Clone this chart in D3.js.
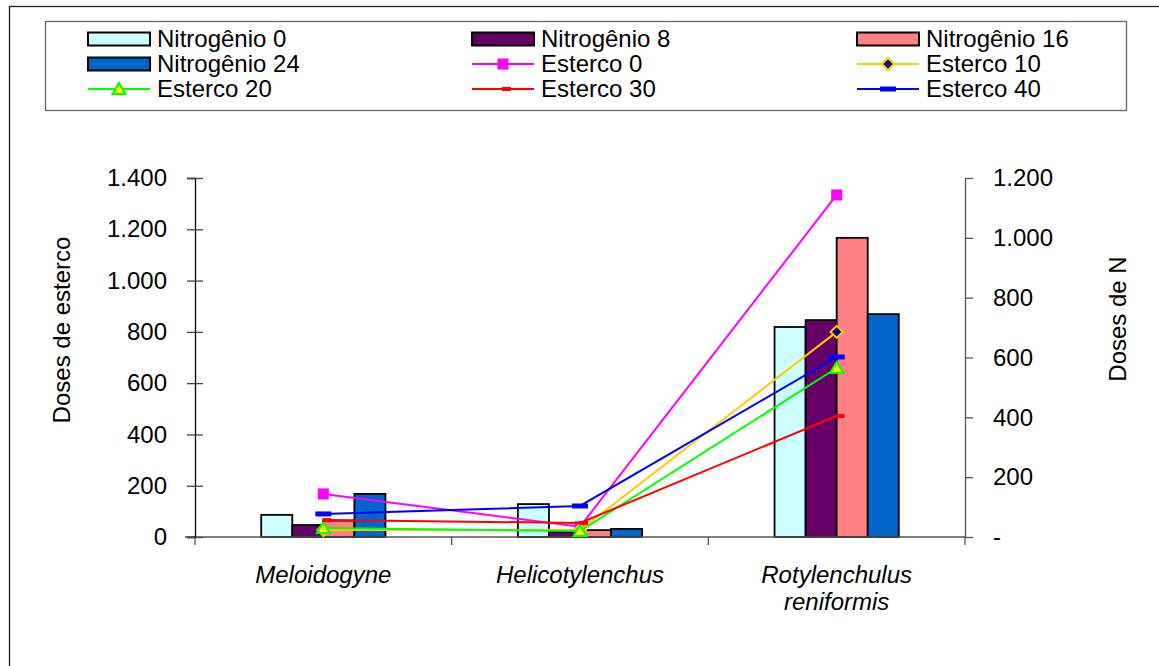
<!DOCTYPE html>
<html>
<head>
<meta charset="utf-8">
<script src="https://cdn.jsdelivr.net/npm/d3@7"></script>
<style>
  body { margin: 0; background: #fff; }
  text { font-family: Arial, "Liberation Sans", sans-serif; fill: #000; }
  .tick text { font-size: 24px; }
  .axis-label { font-size: 24px; }
  .cat-label { font-size: 24px; font-style: italic; }
  .legend text { font-size: 24px; }
</style>
</head>
<body>
<div id="chart"></div>
<script>
// Data
var categories = ["Meloidogyne", "Helicotylenchus", "Rotylenchulus reniformis"];

var barNames = ["Nitrogênio 0", "Nitrogênio 8", "Nitrogênio 16", "Nitrogênio 24"];
var nitro0 = [74, 110, 702];
var nitro8 = [40, 17, 725];
var nitro16 = [55, 23, 1000];
var nitro24 = [144, 27, 745];

var lineNames = ["Esterco 0", "Esterco 10", "Esterco 20", "Esterco 30", "Esterco 40"];
var esterco0 = [168, 40, 1334];
var esterco10 = [27, 27, 800];
var esterco20 = [35, 23, 659];
var esterco30 = [66, 55, 472];
var esterco40 = [90, 121, 702];

var leftTicks = [0, 200, 400, 600, 800, 1000, 1200, 1400];
var rightTicks = [0, 200, 400, 600, 800, 1000, 1200];

function init() {
    var W = 1159, H = 666;
    var plot = { left: 195, right: 965, top: 178, bottom: 537 };

    var svg = d3.select("#chart")
        .append("svg")
        .attr("width", W)
        .attr("height", H);

    // outer chart border (only top and left are visible)
    svg.append("rect")
        .attr("x", 9.5).attr("y", 6.5)
        .attr("width", 1200).attr("height", 700)
        .attr("fill", "none").attr("stroke", "#222").attr("stroke-width", 1.3);

    var bars = [
        { name: barNames[0], values: nitro0, color: "#CCFFFF" },
        { name: barNames[1], values: nitro8, color: "#660066" },
        { name: barNames[2], values: nitro16, color: "#FF8080" },
        { name: barNames[3], values: nitro24, color: "#0066CC" }
    ];
    var lines = [
        { name: lineNames[0], values: esterco0, color: "#FF00FF", marker: "square" },
        { name: lineNames[1], values: esterco10, color: "#FFCC00", marker: "diamond" },
        { name: lineNames[2], values: esterco20, color: "#00FF00", marker: "triangle" },
        { name: lineNames[3], values: esterco30, color: "#FF0000", marker: "dashS" },
        { name: lineNames[4], values: esterco40, color: "#0000FF", marker: "dashL" }
    ];

    // Scales
    var x = d3.scaleBand()
        .domain(categories)
        .range([plot.left, plot.right])
        .padding(0);

    var groupW = x.bandwidth() * 0.484;
    var xInner = d3.scaleBand()
        .domain(barNames)
        .range([-groupW / 2, groupW / 2])
        .padding(0);

    var yLeft = d3.scaleLinear().domain([0, 1400]).range([plot.bottom, plot.top]);
    var yRight = d3.scaleLinear().domain([0, 1200]).range([plot.bottom, plot.top]);

    var pt = d3.formatLocale({ decimal: ",", thousands: ".", grouping: [3], currency: ["", ""] }).format(",d");

    // Bars (Doses de N, right axis)
    bars.forEach(function (s) {
        svg.append("g").selectAll("rect")
            .data(s.values)
            .join("rect")
            .attr("x", (d, i) => x(categories[i]) + x.bandwidth() / 2 + xInner(s.name))
            .attr("y", d => yRight(d))
            .attr("width", xInner.bandwidth())
            .attr("height", d => yRight(0) - yRight(d))
            .attr("fill", s.color)
            .attr("stroke", "#000")
            .attr("stroke-width", 1.8);
    });

    // x axis line and category boundary ticks
    svg.append("line")
        .attr("x1", plot.left - 10).attr("x2", plot.right)
        .attr("y1", plot.bottom).attr("y2", plot.bottom)
        .attr("stroke", "#555").attr("stroke-width", 1.3);

    var bounds = categories.map(c => x(c)).concat([plot.right]);
    svg.append("g").selectAll("line")
        .data(bounds)
        .join("line")
        .attr("x1", d => d).attr("x2", d => d)
        .attr("y1", plot.bottom).attr("y2", plot.bottom + 8)
        .attr("stroke", "#555").attr("stroke-width", 1.3);

    // Category labels
    svg.append("g").selectAll("text")
        .data(categories)
        .join("text")
        .attr("class", "cat-label")
        .attr("text-anchor", "middle")
        .each(function (c) {
            var words = c.split(" ");
            var t = d3.select(this);
            words.forEach(function (w, j) {
                t.append("tspan")
                    .attr("x", x(c) + x.bandwidth() / 2)
                    .attr("y", 583 + j * 27)
                    .text(w);
            });
        });

    // Left axis (Doses de esterco)
    var gLeft = svg.append("g")
        .attr("transform", "translate(" + plot.left + ",0)")
        .call(d3.axisLeft(yLeft).tickValues(leftTicks).tickFormat(pt).tickSize(8).tickPadding(20));
    gLeft.select(".domain").attr("stroke", "#000").attr("stroke-width", 1.3);
    gLeft.selectAll(".tick line").attr("x1", 8).attr("stroke", "#444").attr("stroke-width", 1.3);
    gLeft.selectAll(".tick text").style("font-family", "Arial, 'Liberation Sans', sans-serif").attr("fill", "#000");

    // Right axis (Doses de N)
    var gRight = svg.append("g")
        .attr("transform", "translate(" + plot.right + ",0)")
        .call(d3.axisRight(yRight).tickValues(rightTicks).tickFormat(d => d === 0 ? "-" : pt(d)).tickSize(8).tickPadding(20).tickSizeOuter(0));
    gRight.select(".domain").attr("stroke", "#555").attr("stroke-width", 1.3);
    gRight.selectAll(".tick line").attr("stroke", "#555").attr("stroke-width", 1.3);
    gRight.selectAll(".tick text").style("font-family", "Arial, 'Liberation Sans', sans-serif").attr("fill", "#000");

    // Axis titles
    svg.append("text")
        .attr("class", "axis-label")
        .attr("transform", "translate(70," + 330 + ") rotate(-90)")
        .attr("text-anchor", "middle")
        .text("Doses de esterco");

    svg.append("text")
        .attr("class", "axis-label")
        .attr("transform", "translate(1126," + 319 + ") rotate(-90)")
        .attr("text-anchor", "middle")
        .text("Doses de N");

    // Lines (Doses de esterco, left axis)
    var line = d3.line()
        .x((d, i) => x(categories[i]) + x.bandwidth() / 2)
        .y(d => yLeft(d));

    function drawMarker(g, type, color) {
        if (type === "square") {
            g.append("rect").attr("x", -5.5).attr("y", -5.5).attr("width", 11).attr("height", 11)
                .attr("fill", color);
        } else if (type === "diamond") {
            g.append("path").attr("d", "M0,-6L6,0L0,6L-6,0Z")
                .attr("fill", "#000080").attr("stroke", color).attr("stroke-width", 2);
        } else if (type === "triangle") {
            g.append("path").attr("d", "M0,-6L6.5,5L-6.5,5Z")
                .attr("fill", "#FFFF00").attr("stroke", color).attr("stroke-width", 2);
        } else if (type === "dashS") {
            g.append("rect").attr("x", -1).attr("y", -2).attr("width", 9).attr("height", 4)
                .attr("fill", color);
        } else if (type === "dashL") {
            g.append("rect").attr("x", -8).attr("y", -2.5).attr("width", 16).attr("height", 5)
                .attr("fill", color);
        }
    }

    lines.forEach(function (s) {
        svg.append("path")
            .datum(s.values)
            .attr("fill", "none")
            .attr("stroke", s.color)
            .attr("stroke-width", 2)
            .attr("d", line);

        s.values.forEach(function (d, i) {
            var g = svg.append("g")
                .attr("transform", "translate(" + (x(categories[i]) + x.bandwidth() / 2) + "," + yLeft(d) + ")");
            drawMarker(g, s.marker, s.color);
        });
    });

    // Legend
    var legend = svg.append("g").attr("class", "legend");
    legend.append("rect")
        .attr("x", 45.5).attr("y", 21.5)
        .attr("width", 1081).attr("height", 89)
        .attr("fill", "#fff").attr("stroke", "#666").attr("stroke-width", 1.3);

    var colX = [88, 472, 857];
    var rowY = [39, 64, 89];
    var entries = bars.map(d => Object.assign({ kind: "bar" }, d))
        .concat(lines.map(d => Object.assign({ kind: "line" }, d)));

    entries.forEach(function (e, k) {
        var cx = colX[k % 3], cy = rowY[Math.floor(k / 3)];
        var g = legend.append("g").attr("transform", "translate(" + cx + "," + cy + ")");
        if (e.kind === "bar") {
            g.append("rect").attr("x", 0).attr("y", -6.5).attr("width", 62).attr("height", 13)
                .attr("fill", e.color).attr("stroke", "#000").attr("stroke-width", 2);
        } else {
            g.append("line").attr("x1", 0).attr("x2", 62).attr("y1", 0).attr("y2", 0)
                .attr("stroke", e.color).attr("stroke-width", 2);
            var m = g.append("g").attr("transform", "translate(31,0)");
            drawMarker(m, e.marker, e.color);
        }
        g.append("text")
            .attr("x", 69).attr("y", 0).attr("dy", "0.35em")
            .text(e.name);
    });
}

init();
</script>
</body>
</html>
